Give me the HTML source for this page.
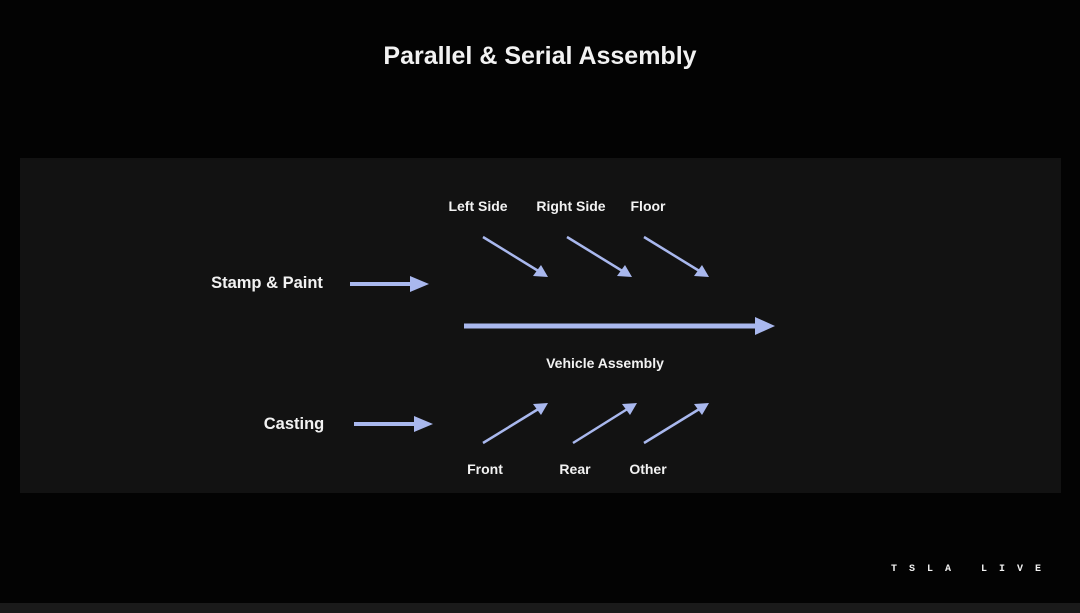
<!DOCTYPE html>
<html><head><meta charset="utf-8"><style>
html,body{margin:0;padding:0;background:#030303;width:1080px;height:613px;overflow:hidden}
svg{display:block}
text{font-family:"Liberation Sans",sans-serif;fill:#f2f2f2;font-weight:bold}
</style></head><body>
<svg width="1080" height="613" viewBox="0 0 1080 613">
<rect x="0" y="0" width="1080" height="613" fill="#030303"/>
<rect x="20" y="158" width="1041" height="335" fill="#121212"/>
<rect x="0" y="603" width="1080" height="10" fill="#1a1a1a"/>
<text x="540" y="64" font-size="25" text-anchor="middle" fill="#fff">Parallel &amp; Serial Assembly</text>
<g font-size="14" text-anchor="middle">
<text x="478" y="211">Left Side</text>
<text x="571" y="211">Right Side</text>
<text x="648" y="211">Floor</text>
<text x="605" y="368">Vehicle Assembly</text>
<text x="485" y="474">Front</text>
<text x="575" y="474">Rear</text>
<text x="648" y="474">Other</text>
</g>
<text x="267" y="288" font-size="16.5" text-anchor="middle">Stamp &amp; Paint</text>
<text x="294" y="429" font-size="16.5" text-anchor="middle">Casting</text>
<g stroke="#a9b8ee" fill="#a9b8ee">
<line x1="350" y1="284" x2="412" y2="284" stroke-width="4"/>
<polygon points="410,276 429,284 410,292" stroke="none"/>
<line x1="354" y1="424" x2="416" y2="424" stroke-width="4"/>
<polygon points="414,416 433,424 414,432" stroke="none"/>
<line x1="464" y1="326" x2="758" y2="326" stroke-width="5"/>
<polygon points="755,317 775,326 755,335" stroke="none"/>
<g stroke-width="2.5">
<line x1="483" y1="237" x2="540" y2="272"/>
<line x1="567" y1="237" x2="624" y2="272"/>
<line x1="644" y1="237" x2="701" y2="272"/>
<line x1="483" y1="443" x2="540" y2="408"/>
<line x1="573" y1="443" x2="629" y2="408"/>
<line x1="644" y1="443" x2="701" y2="408"/>
</g>
<g stroke="none">
<polygon points="548,277 533,276 541,265"/>
<polygon points="632,277 617,276 625,265"/>
<polygon points="709,277 694,276 702,265"/>
<polygon points="548,403 533,404 541,415"/>
<polygon points="637,403 622,404 630,415"/>
<polygon points="709,403 694,404 702,415"/>
</g>
</g>
<text x="972" y="571" font-size="10" text-anchor="middle" fill="#cfe0ff" letter-spacing="12" style="font-family:'Liberation Mono',monospace">TSLA LIVE</text>
</svg>
</body></html>
